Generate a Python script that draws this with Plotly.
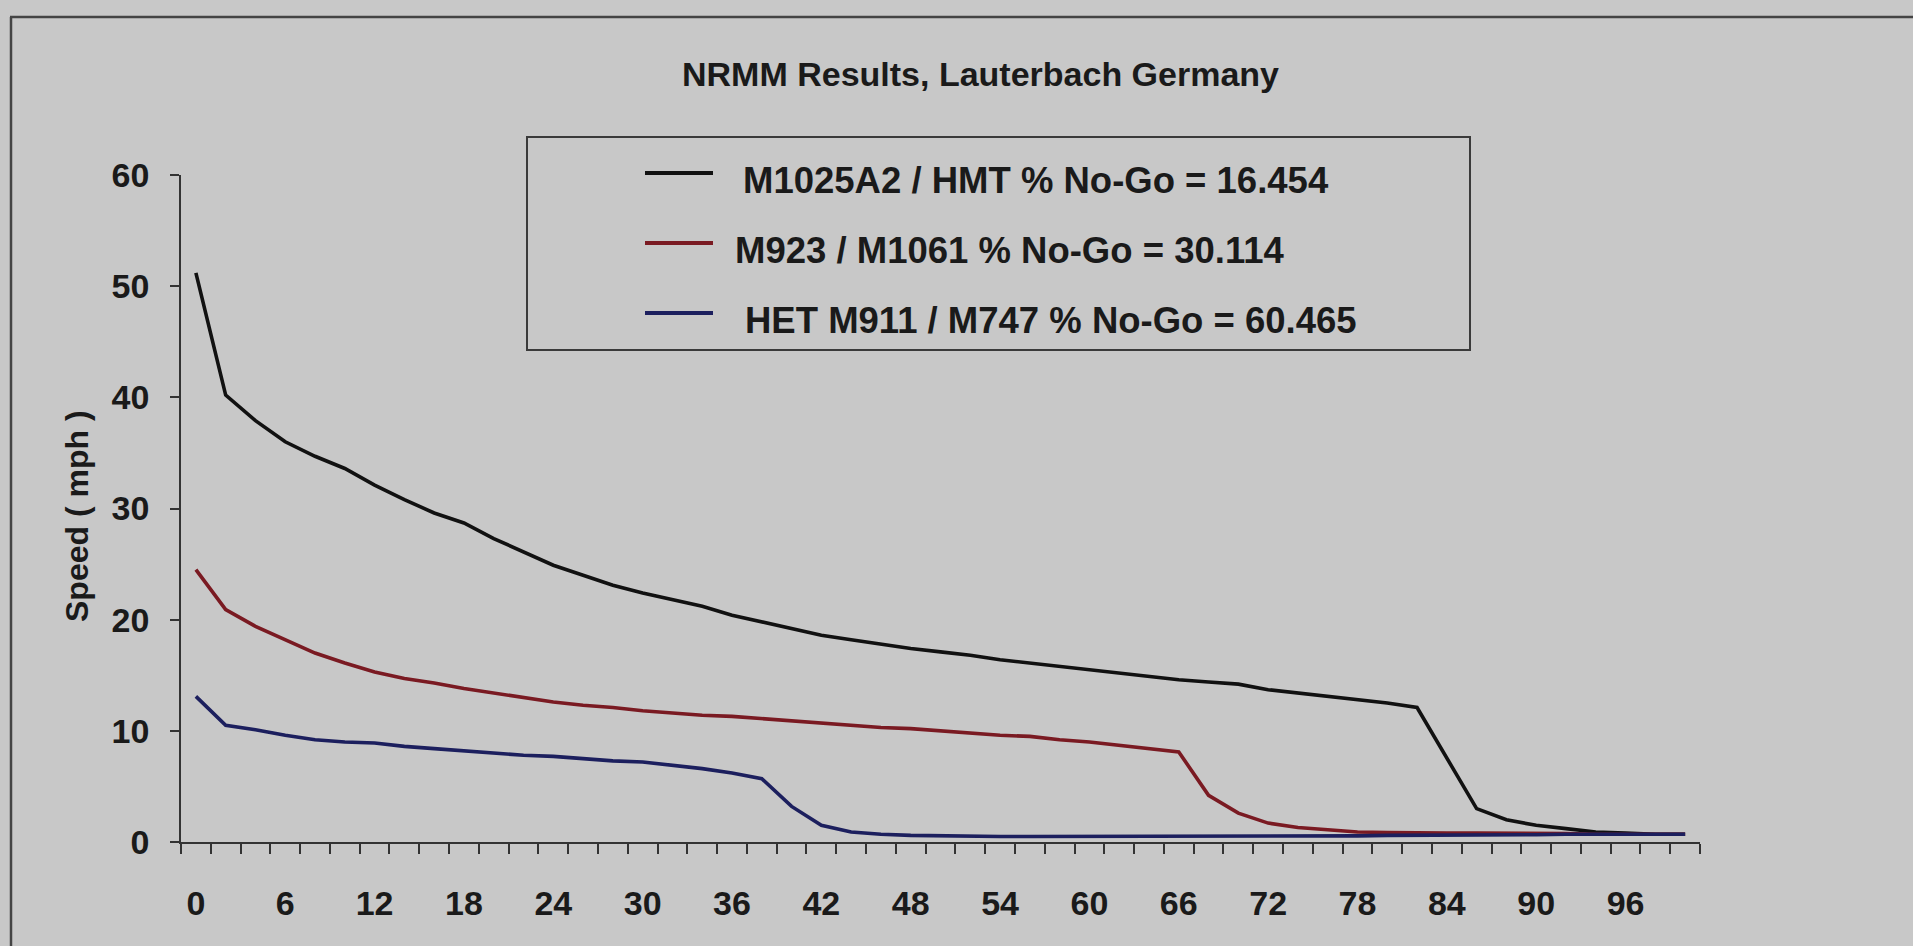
import plotly.graph_objects as go

# percent of terrain (category axis, every 2 %)
pct = [0, 2, 4, 6, 8, 10, 12, 14, 16, 18, 20, 22, 24, 26, 28, 30, 32, 34, 36, 38,
       40, 42, 44, 46, 48, 50, 52, 54, 56, 58, 60, 62, 64, 66, 68, 70, 72, 74, 76, 78,
       80, 82, 84, 86, 88, 90, 92, 94, 96, 98, 100]

speed_m1025 = [51.2, 40.2, 37.9, 36.0, 34.7, 33.6, 32.1, 30.8, 29.6, 28.7, 27.3, 26.1, 24.9,
               24.0, 23.1, 22.4, 21.8, 21.2, 20.4, 19.8, 19.2, 18.6, 18.2, 17.8, 17.4, 17.1,
               16.8, 16.4, 16.1, 15.8, 15.5, 15.2, 14.9, 14.6, 14.4, 14.2, 13.7, 13.4, 13.1,
               12.8, 12.5, 12.1, 7.5, 3.0, 2.0, 1.5, 1.2, 0.9, 0.8, 0.7, 0.7]

speed_m923 = [24.5, 20.9, 19.4, 18.2, 17.0, 16.1, 15.3, 14.7, 14.3, 13.8, 13.4, 13.0, 12.6,
              12.3, 12.1, 11.8, 11.6, 11.4, 11.3, 11.1, 10.9, 10.7, 10.5, 10.3, 10.2, 10.0,
              9.8, 9.6, 9.5, 9.2, 9.0, 8.7, 8.4, 8.1, 4.2, 2.6, 1.7, 1.3, 1.1, 0.9, 0.85,
              0.8, 0.8, 0.8, 0.8, 0.75, 0.75, 0.7, 0.7, 0.7, 0.7]

speed_het = [13.1, 10.5, 10.1, 9.6, 9.2, 9.0, 8.9, 8.6, 8.4, 8.2, 8.0, 7.8, 7.7, 7.5, 7.3,
             7.2, 6.9, 6.6, 6.2, 5.7, 3.2, 1.5, 0.9, 0.7, 0.6, 0.55, 0.5, 0.5, 0.5, 0.5,
             0.5, 0.5, 0.5, 0.5, 0.5, 0.5, 0.5, 0.5, 0.55, 0.55, 0.6, 0.6, 0.6, 0.6, 0.65,
             0.65, 0.7, 0.7, 0.7, 0.7, 0.7]

series_names = ["M1025A2 / HMT % No-Go = 16.454",
                "M923 / M1061 % No-Go = 30.114",
                "HET M911 / M747 % No-Go = 60.465"]
series_colors = ["#111111", "#7a1a22", "#1c1f5e"]

x_tick_labels = [0, 6, 12, 18, 24, 30, 36, 42, 48, 54, 60, 66, 72, 78, 84, 90, 96]
y_tick_labels = [0, 10, 20, 30, 40, 50, 60]

BG = "#c8c8c8"
INK = "#1a1a1a"
FONT = "Liberation Sans, Arial, sans-serif"

# page size and plot area (pixels)
W, H = 1913, 946
L, R, T, B = 181, 213, 175, 104


def px(x):
    return (x - L) / (W - L - R)


def py(y):
    return (H - B - y) / (H - T - B)


fig = go.Figure()
for ys, name, col in zip([speed_m1025, speed_m923, speed_het], series_names, series_colors):
    fig.add_trace(go.Scatter(x=pct, y=ys, mode="lines", name=name,
                             line=dict(color=col, width=3.6), showlegend=False))

shapes = [
    # photo frame
    dict(type="line", xref="paper", yref="paper", x0=px(10), x1=px(W), y0=py(17), y1=py(17),
         line=dict(color="#444444", width=2.5)),
    dict(type="line", xref="paper", yref="paper", x0=px(11), x1=px(11), y0=py(17), y1=py(H),
         line=dict(color="#444444", width=2.5)),
    # legend box
    dict(type="rect", xref="paper", yref="paper", x0=px(527), x1=px(1470), y0=py(137), y1=py(350),
         line=dict(color="#3a3a3a", width=2), fillcolor=BG),
]
annotations = [
    dict(text="NRMM Results, Lauterbach Germany", xref="paper", yref="paper",
         x=px(980), y=py(74), xanchor="center", yanchor="middle", showarrow=False,
         font=dict(size=34, color=INK, family=FONT, weight="bold")),
    dict(text="Speed ( mph )", xref="paper", yref="paper", x=px(77), y=py(516),
         xanchor="center", yanchor="middle", textangle=-90, showarrow=False,
         font=dict(size=32, color=INK, family=FONT, weight="bold")),
]

# legend entries drawn by hand (long sample lines like the original)
leg_line_y = [173, 243, 313]
leg_text_x = [741, 733, 743]
for name, col, ly, tx in zip(series_names, series_colors, leg_line_y, leg_text_x):
    shapes.append(dict(type="line", xref="paper", yref="paper", x0=px(645), x1=px(713),
                       y0=py(ly), y1=py(ly), line=dict(color=col, width=3.8)))
    annotations.append(dict(text=name, xref="paper", yref="paper", x=px(tx), y=py(ly + 7),
                            xanchor="left", yanchor="middle", showarrow=False,
                            font=dict(size=36.5, color=INK, family=FONT, weight="bold")))

fig.update_layout(
    width=W, height=H,
    margin=dict(l=L, r=R, t=T, b=B, pad=0),
    paper_bgcolor=BG, plot_bgcolor=BG,
    font=dict(family=FONT, color=INK),
    shapes=shapes, annotations=annotations,
    showlegend=False,
)

fig.update_xaxes(
    range=[-1, 101], showgrid=False, zeroline=False,
    showline=True, linecolor="#333333", linewidth=2,
    tickmode="array", tickvals=x_tick_labels, ticks="",
    ticklabelstandoff=30,
    tickfont=dict(size=34, color=INK, family=FONT, weight="bold"),
    minor=dict(tickmode="array", tickvals=[v - 1 for v in pct] + [101],
               ticks="outside", ticklen=10, tickwidth=1.5, tickcolor="#333333"),
)
fig.update_yaxes(
    range=[0, 60], showgrid=False, zeroline=False,
    showline=True, linecolor="#333333", linewidth=1.5,
    tickmode="array", tickvals=y_tick_labels,
    ticks="outside", ticklen=9, tickwidth=1.5, tickcolor="#333333",
    ticklabelstandoff=14,
    tickfont=dict(size=34, color=INK, family=FONT, weight="bold"),
)

fig.write_html("out.html", config={"displayModeBar": False},
               post_script="document.body.style.margin='0';document.body.style.background='%s';" % BG)
